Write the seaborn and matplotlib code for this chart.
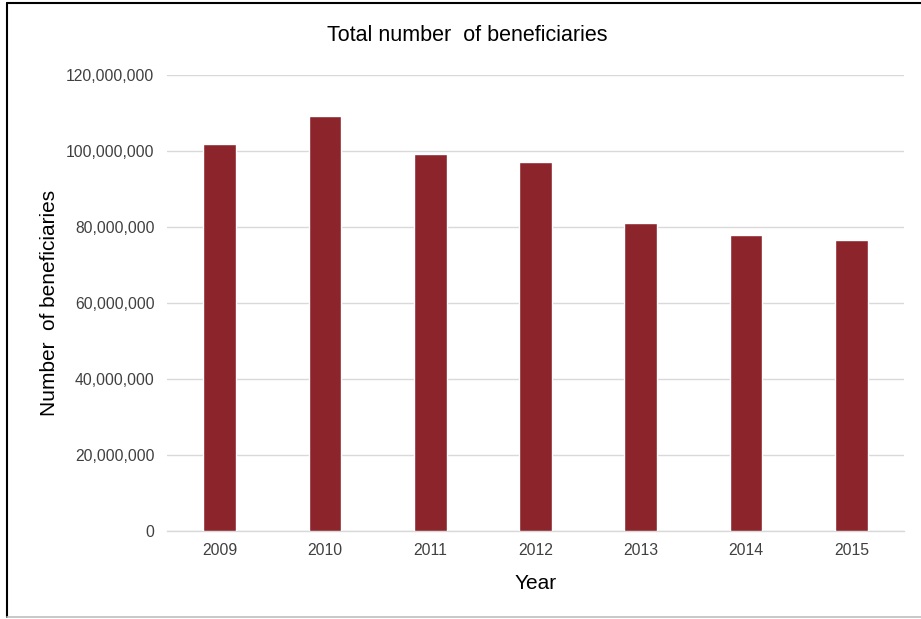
import matplotlib
matplotlib.use("Agg")
import matplotlib.pyplot as plt
import matplotlib.ticker as mticker
from matplotlib.lines import Line2D
import seaborn as sns
import pandas as pd

# Total beneficiaries per year
years = ["2009", "2010", "2011", "2012", "2013", "2014", "2015"]
beneficiaries = [101_800_000, 109_200_000, 99_100_000, 97_100_000,
                 81_000_000, 77_900_000, 76_600_000]
y_ticks = [0, 20_000_000, 40_000_000, 60_000_000, 80_000_000,
           100_000_000, 120_000_000]

df = pd.DataFrame({"Year": years, "Beneficiaries": beneficiaries})

sns.set_style("white")
plt.rcParams["font.family"] = ["Liberation Sans", "DejaVu Sans"]

fig = plt.figure(figsize=(9.21, 6.19), dpi=100)
ax = fig.add_axes([0.1813, 0.1426, 0.8003, 0.7362])

sns.barplot(data=df, x="Year", y="Beneficiaries", color="#8B252B",
            width=0.31, saturation=1, ax=ax, zorder=3)

ax.set_ylim(0, 120_000_000)
ax.set_yticks(y_ticks)
ax.yaxis.set_major_formatter(mticker.FuncFormatter(lambda v, _: f"{int(v):,}"))
ax.grid(axis="y", color="#d9d9d9", linewidth=1, zorder=0)
ax.set_axisbelow(True)
for side in ["top", "right", "left"]:
    ax.spines[side].set_visible(False)
ax.spines["bottom"].set_color("#d9d9d9")
ax.spines["bottom"].set_linewidth(1)

ax.tick_params(axis="both", length=0, labelsize=11.3, labelcolor="#404040")
ax.tick_params(axis="y", pad=9)
ax.tick_params(axis="x", pad=9)

ax.set_xlabel("Year", fontsize=15, color="black", labelpad=11)
ax.set_ylabel("Number  of beneficiaries", fontsize=15, color="black", labelpad=5)

fig.text(0.507, 0.943, "Total number  of beneficiaries", ha="center", va="center",
         fontsize=15.5, color="black")

# Frame around the figure
fig.add_artist(Line2D([7 / 921, 7 / 921], [1 - 3 / 619, 1 - 617 / 619],
                      transform=fig.transFigure, color="black", linewidth=1.5))
fig.add_artist(Line2D([7 / 921, 1], [1 - 3 / 619, 1 - 3 / 619],
                      transform=fig.transFigure, color="black", linewidth=1.5))
fig.add_artist(Line2D([7 / 921, 1], [1 - 617 / 619, 1 - 617 / 619],
                      transform=fig.transFigure, color="#bfbfbf", linewidth=1.2))

fig.savefig("out.png", dpi=100)
